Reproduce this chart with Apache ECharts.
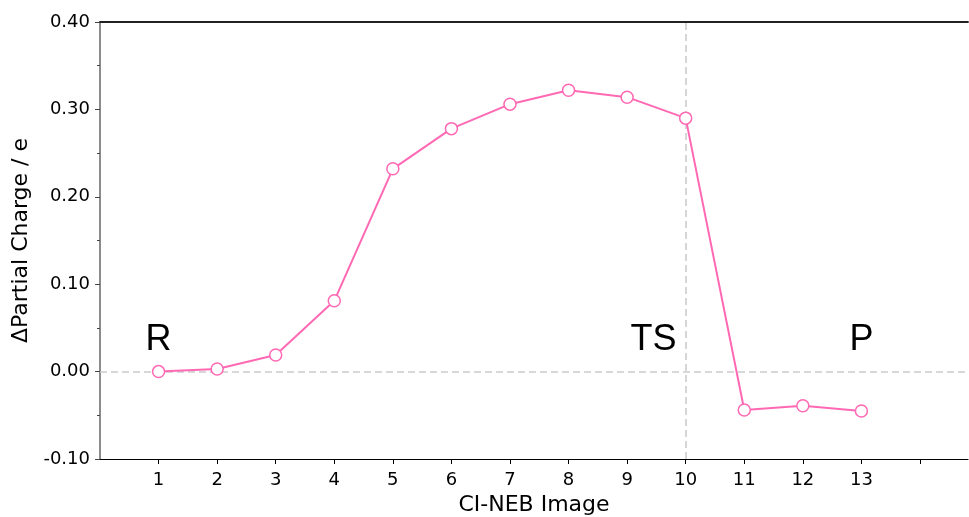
<!DOCTYPE html>
<html>
<head>
<meta charset="utf-8">
<script src="https://cdn.jsdelivr.net/npm/echarts@6/dist/echarts.min.js"></script>
<style>
  html, body { margin: 0; padding: 0; background: #fff; }
  #chart { width: 969px; height: 517px; }
</style>
</head>
<body>
<div id="chart"></div>
<script>
// CI-NEB image index
const images = [1, 2, 3, 4, 5, 6, 7, 8, 9, 10, 11, 12, 13];
// change of partial charge (e)
const charge = [0.000, 0.003, 0.019, 0.081, 0.232, 0.278, 0.306, 0.322, 0.314, 0.290, -0.044, -0.039, -0.045];
// x tick marks (14 has a tick but no label)
const xTicks = [1, 2, 3, 4, 5, 6, 7, 8, 9, 10, 11, 12, 13, 14];
// state labels and where they sit
const stateNames = ['R', 'TS', 'P'];
const stateX = [1, 9.45, 13];
const stateY = [0.036, 0.036, 0.036];
const yTicks = [-0.10, 0.00, 0.10, 0.20, 0.30, 0.40];

const font = 'DejaVu Sans';
const pink = '#ff69b4';

let myChart = echarts.init(document.getElementById('chart'));
let option = {
  animation: false,
  textStyle: { fontFamily: font },
  grid: { left: 100, right: 1, top: 22, bottom: 58, outerBoundsMode: 'none', containLabel: false },
  xAxis: [
    {
      type: 'value',
      min: 0,
      max: 14.82,
      interval: 1,
      name: 'CI-NEB Image',
      nameLocation: 'middle',
      nameGap: 33,
      nameTextStyle: { fontSize: 22, color: '#000', fontFamily: font },
      axisLine: { onZero: false, lineStyle: { color: '#000', width: 1.2 } },
      axisTick: { show: true, length: 5, customValues: xTicks, lineStyle: { color: '#000' } },
      axisLabel: {
        fontSize: 18, color: '#000', margin: 12, fontFamily: font,
        customValues: images,
        formatter: v => String(v)
      },
      splitLine: { show: false }
    },
    {
      type: 'value',
      position: 'top',
      min: 0,
      max: 14.82,
      axisLine: { show: true, onZero: false, lineStyle: { color: '#222', width: 1.8 } },
      axisTick: { show: false },
      axisLabel: { show: false },
      splitLine: { show: false }
    }
  ],
  yAxis: {
    type: 'value',
    min: yTicks[0],
    max: yTicks[yTicks.length - 1],
    interval: 0.1,
    name: 'ΔPartial Charge / e',
    nameLocation: 'middle',
    nameGap: 68,
    nameTextStyle: { fontSize: 22, color: '#000', fontFamily: font },
    axisLine: { show: true, onZero: false, lineStyle: { color: '#666', width: 1.5 } },
    axisTick: { show: true, length: 5, lineStyle: { color: '#444' } },
    minorTick: { show: true, splitNumber: 2, length: 3, lineStyle: { color: '#444' } },
    axisLabel: {
      fontSize: 18, color: '#000', margin: 10, fontFamily: font,
      formatter: v => v.toFixed(2)
    },
    splitLine: { show: false }
  },
  series: [
    {
      type: 'line',
      data: images.map((x, i) => [x, charge[i]]),
      symbol: 'circle',
      symbolSize: 12,
      lineStyle: { color: pink, width: 2 },
      itemStyle: { color: '#fff', borderColor: pink, borderWidth: 1.5 },
      z: 5,
      markLine: {
        silent: true,
        symbol: 'none',
        label: { show: false },
        lineStyle: { color: '#cccccc', type: [7, 4], width: 1.6 },
        data: [{ yAxis: 0 }, { xAxis: 10 }]
      },
      markPoint: {
        silent: true,
        symbol: 'circle',
        symbolSize: 0,
        itemStyle: { color: '#000', opacity: 1 },
        label: {
          show: true,
          position: 'inside',
          formatter: p => p.name,
          fontSize: 36,
          color: '#000',
          opacity: 1,
          textBorderWidth: 0,
          fontFamily: 'Liberation Sans'
        },
        data: stateNames.map((n, i) => ({ name: n, coord: [stateX[i], stateY[i]] }))
      }
    }
  ]
};
myChart.setOption(option);
</script>
</body>
</html>
